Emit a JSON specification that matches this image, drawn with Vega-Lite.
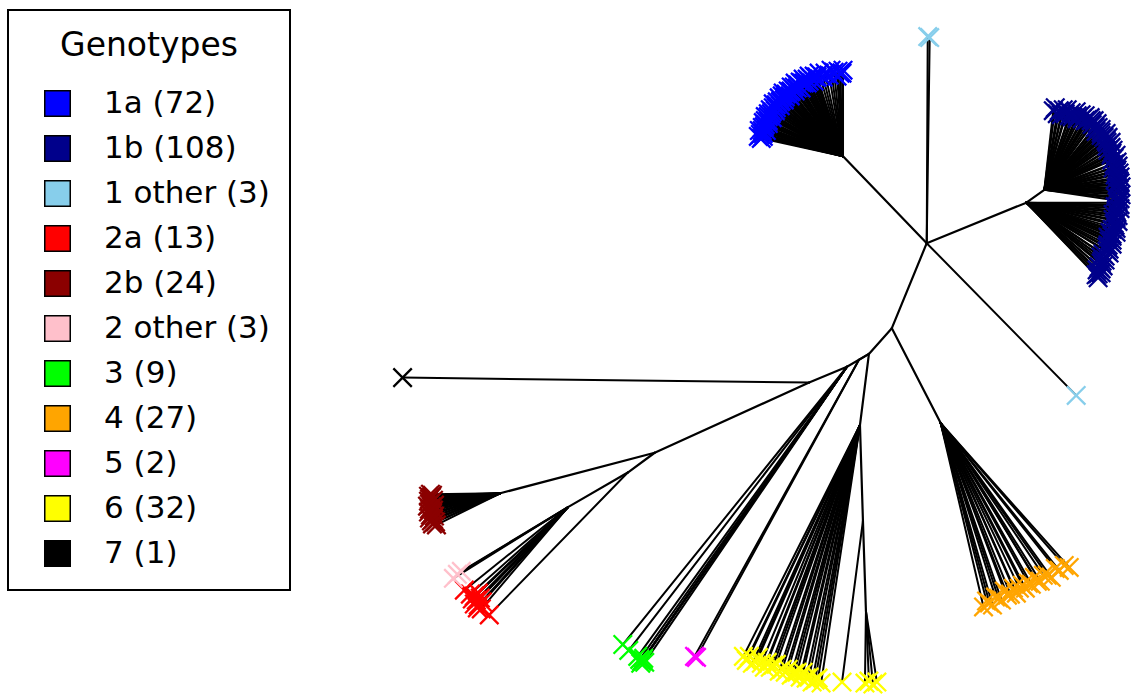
{
  "$schema": "https://vega.github.io/schema/vega-lite/v6.json",
  "width": 1135,
  "height": 698,
  "autosize": {"type": "fit", "contains": "padding"},
  "padding": 0,
  "background": "white",
  "config": {"view": {"stroke": null}},
  "datasets": {
    "groups": [
      {"g":"1a (72)"},{"g":"1b (108)"},{"g":"1 other (3)"},{"g":"2a (13)"},{"g":"2b (24)"},{"g":"2 other (3)"},{"g":"3 (9)"},{"g":"4 (27)"},{"g":"5 (2)"},{"g":"6 (32)"},{"g":"7 (1)"}
    ],
    "edges": [
      {"x":930,"y":246,"x2":846,"y2":158},
      {"x":930,"y":246,"x2":1030,"y2":205},
      {"x":1030,"y":205,"x2":1048,"y2":192},
      {"x":930,"y":246,"x2":895,"y2":332},
      {"x":895,"y":332,"x2":872,"y2":358},
      {"x":895,"y":332,"x2":944,"y2":428},
      {"x":872,"y":358,"x2":850,"y2":371},
      {"x":872,"y":358,"x2":862,"y2":364},
      {"x":872,"y":358,"x2":863,"y2":430},
      {"x":850,"y":371,"x2":812,"y2":387},
      {"x":812,"y":387,"x2":657,"y2":458},
      {"x":657,"y":458,"x2":502,"y2":499},
      {"x":657,"y":458,"x2":630,"y2":478},
      {"x":630,"y":478,"x2":570,"y2":513},
      {"x":863,"y":430,"x2":866,"y2":527},
      {"x":866,"y":527,"x2":869,"y2":618}
    ],
    "tips": [
      {"g":"1a (72)","x":764,"y":140,"px":846,"py":158},
      {"g":"1a (72)","x":761,"y":138,"px":846,"py":158},
      {"g":"1a (72)","x":766,"y":138,"px":846,"py":158},
      {"g":"1a (72)","x":763,"y":136,"px":846,"py":158},
      {"g":"1a (72)","x":766,"y":135,"px":846,"py":158},
      {"g":"1a (72)","x":762,"y":132,"px":846,"py":158},
      {"g":"1a (72)","x":765,"y":132,"px":846,"py":158},
      {"g":"1a (72)","x":769,"y":132,"px":846,"py":158},
      {"g":"1a (72)","x":765,"y":129,"px":846,"py":158},
      {"g":"1a (72)","x":767,"y":128,"px":846,"py":158},
      {"g":"1a (72)","x":768,"y":126,"px":846,"py":158},
      {"g":"1a (72)","x":766,"y":124,"px":846,"py":158},
      {"g":"1a (72)","x":771,"y":125,"px":846,"py":158},
      {"g":"1a (72)","x":768,"y":122,"px":846,"py":158},
      {"g":"1a (72)","x":771,"y":122,"px":846,"py":158},
      {"g":"1a (72)","x":768,"y":118,"px":846,"py":158},
      {"g":"1a (72)","x":771,"y":118,"px":846,"py":158},
      {"g":"1a (72)","x":775,"y":119,"px":846,"py":158},
      {"g":"1a (72)","x":771,"y":115,"px":846,"py":158},
      {"g":"1a (72)","x":774,"y":115,"px":846,"py":158},
      {"g":"1a (72)","x":775,"y":113,"px":846,"py":158},
      {"g":"1a (72)","x":773,"y":111,"px":846,"py":158},
      {"g":"1a (72)","x":778,"y":112,"px":846,"py":158},
      {"g":"1a (72)","x":776,"y":109,"px":846,"py":158},
      {"g":"1a (72)","x":779,"y":109,"px":846,"py":158},
      {"g":"1a (72)","x":776,"y":105,"px":846,"py":158},
      {"g":"1a (72)","x":779,"y":106,"px":846,"py":158},
      {"g":"1a (72)","x":783,"y":107,"px":846,"py":158},
      {"g":"1a (72)","x":780,"y":103,"px":846,"py":158},
      {"g":"1a (72)","x":783,"y":103,"px":846,"py":158},
      {"g":"1a (72)","x":784,"y":102,"px":846,"py":158},
      {"g":"1a (72)","x":782,"y":99,"px":846,"py":158},
      {"g":"1a (72)","x":787,"y":101,"px":846,"py":158},
      {"g":"1a (72)","x":785,"y":97,"px":846,"py":158},
      {"g":"1a (72)","x":788,"y":98,"px":846,"py":158},
      {"g":"1a (72)","x":786,"y":94,"px":846,"py":158},
      {"g":"1a (72)","x":789,"y":95,"px":846,"py":158},
      {"g":"1a (72)","x":793,"y":97,"px":846,"py":158},
      {"g":"1a (72)","x":791,"y":92,"px":846,"py":158},
      {"g":"1a (72)","x":793,"y":93,"px":846,"py":158},
      {"g":"1a (72)","x":794,"y":92,"px":846,"py":158},
      {"g":"1a (72)","x":794,"y":88,"px":846,"py":158},
      {"g":"1a (72)","x":798,"y":92,"px":846,"py":158},
      {"g":"1a (72)","x":797,"y":88,"px":846,"py":158},
      {"g":"1a (72)","x":800,"y":89,"px":846,"py":158},
      {"g":"1a (72)","x":798,"y":84,"px":846,"py":158},
      {"g":"1a (72)","x":801,"y":86,"px":846,"py":158},
      {"g":"1a (72)","x":804,"y":89,"px":846,"py":158},
      {"g":"1a (72)","x":803,"y":83,"px":846,"py":158},
      {"g":"1a (72)","x":805,"y":84,"px":846,"py":158},
      {"g":"1a (72)","x":807,"y":84,"px":846,"py":158},
      {"g":"1a (72)","x":806,"y":80,"px":846,"py":158},
      {"g":"1a (72)","x":810,"y":84,"px":846,"py":158},
      {"g":"1a (72)","x":810,"y":80,"px":846,"py":158},
      {"g":"1a (72)","x":812,"y":82,"px":846,"py":158},
      {"g":"1a (72)","x":812,"y":77,"px":846,"py":158},
      {"g":"1a (72)","x":814,"y":79,"px":846,"py":158},
      {"g":"1a (72)","x":817,"y":82,"px":846,"py":158},
      {"g":"1a (72)","x":817,"y":77,"px":846,"py":158},
      {"g":"1a (72)","x":819,"y":78,"px":846,"py":158},
      {"g":"1a (72)","x":820,"y":78,"px":846,"py":158},
      {"g":"1a (72)","x":822,"y":74,"px":846,"py":158},
      {"g":"1a (72)","x":826,"y":78,"px":846,"py":158},
      {"g":"1a (72)","x":828,"y":74,"px":846,"py":158},
      {"g":"1a (72)","x":832,"y":76,"px":846,"py":158},
      {"g":"1a (72)","x":834,"y":71,"px":846,"py":158},
      {"g":"1a (72)","x":837,"y":73,"px":846,"py":158},
      {"g":"1a (72)","x":840,"y":77,"px":846,"py":158},
      {"g":"1a (72)","x":841,"y":72,"px":846,"py":158},
      {"g":"1a (72)","x":843,"y":74,"px":846,"py":158},
      {"g":"1a (72)","x":845,"y":74,"px":846,"py":158},
      {"g":"1a (72)","x":846,"y":71,"px":846,"py":158},

      {"g":"1b (108)","x":1057,"y":112,"px":1048,"py":192},
      {"g":"1b (108)","x":1059,"y":109,"px":1048,"py":192},
      {"g":"1b (108)","x":1061,"y":115,"px":1048,"py":192},
      {"g":"1b (108)","x":1063,"y":112,"px":1048,"py":192},
      {"g":"1b (108)","x":1065,"y":116,"px":1048,"py":192},
      {"g":"1b (108)","x":1067,"y":111,"px":1048,"py":192},
      {"g":"1b (108)","x":1069,"y":115,"px":1048,"py":192},
      {"g":"1b (108)","x":1071,"y":111,"px":1048,"py":192},
      {"g":"1b (108)","x":1073,"y":117,"px":1048,"py":192},
      {"g":"1b (108)","x":1075,"y":114,"px":1048,"py":192},
      {"g":"1b (108)","x":1076,"y":118,"px":1048,"py":192},
      {"g":"1b (108)","x":1080,"y":113,"px":1048,"py":192},
      {"g":"1b (108)","x":1081,"y":117,"px":1048,"py":192},
      {"g":"1b (108)","x":1081,"y":120,"px":1048,"py":192},
      {"g":"1b (108)","x":1085,"y":116,"px":1048,"py":192},
      {"g":"1b (108)","x":1086,"y":120,"px":1048,"py":192},
      {"g":"1b (108)","x":1089,"y":117,"px":1048,"py":192},
      {"g":"1b (108)","x":1089,"y":122,"px":1048,"py":192},
      {"g":"1b (108)","x":1091,"y":121,"px":1048,"py":192},
      {"g":"1b (108)","x":1094,"y":119,"px":1048,"py":192},
      {"g":"1b (108)","x":1095,"y":122,"px":1048,"py":192},
      {"g":"1b (108)","x":1098,"y":122,"px":1048,"py":192},
      {"g":"1b (108)","x":1096,"y":126,"px":1048,"py":192},
      {"g":"1b (108)","x":1101,"y":125,"px":1048,"py":192},
      {"g":"1b (108)","x":1099,"y":129,"px":1048,"py":192},
      {"g":"1b (108)","x":1102,"y":129,"px":1048,"py":192},
      {"g":"1b (108)","x":1100,"y":133,"px":1048,"py":192},
      {"g":"1b (108)","x":1105,"y":131,"px":1048,"py":192},
      {"g":"1b (108)","x":1105,"y":134,"px":1048,"py":192},
      {"g":"1b (108)","x":1105,"y":137,"px":1048,"py":192},
      {"g":"1b (108)","x":1110,"y":135,"px":1048,"py":192},
      {"g":"1b (108)","x":1108,"y":139,"px":1048,"py":192},
      {"g":"1b (108)","x":1112,"y":139,"px":1048,"py":192},
      {"g":"1b (108)","x":1110,"y":142,"px":1048,"py":192},
      {"g":"1b (108)","x":1111,"y":144,"px":1048,"py":192},
      {"g":"1b (108)","x":1115,"y":144,"px":1048,"py":192},
      {"g":"1b (108)","x":1111,"y":148,"px":1048,"py":192},
      {"g":"1b (108)","x":1115,"y":149,"px":1048,"py":192},
      {"g":"1b (108)","x":1112,"y":152,"px":1048,"py":192},
      {"g":"1b (108)","x":1117,"y":152,"px":1048,"py":192},
      {"g":"1b (108)","x":1116,"y":155,"px":1048,"py":192},
      {"g":"1b (108)","x":1115,"y":157,"px":1048,"py":192},
      {"g":"1b (108)","x":1120,"y":157,"px":1048,"py":192},
      {"g":"1b (108)","x":1118,"y":160,"px":1048,"py":192},
      {"g":"1b (108)","x":1116,"y":162,"px":1048,"py":192},
      {"g":"1b (108)","x":1121,"y":164,"px":1048,"py":192},
      {"g":"1b (108)","x":1118,"y":166,"px":1048,"py":192},
      {"g":"1b (108)","x":1122,"y":168,"px":1048,"py":192},
      {"g":"1b (108)","x":1117,"y":170,"px":1048,"py":192},
      {"g":"1b (108)","x":1121,"y":172,"px":1048,"py":192},
      {"g":"1b (108)","x":1120,"y":173,"px":1048,"py":192},
      {"g":"1b (108)","x":1123,"y":175,"px":1048,"py":192},
      {"g":"1b (108)","x":1119,"y":177,"px":1048,"py":192},
      {"g":"1b (108)","x":1124,"y":179,"px":1048,"py":192},
      {"g":"1b (108)","x":1120,"y":181,"px":1048,"py":192},
      {"g":"1b (108)","x":1123,"y":183,"px":1048,"py":192},
      {"g":"1b (108)","x":1124,"y":185,"px":1048,"py":192},
      {"g":"1b (108)","x":1121,"y":187,"px":1048,"py":192},
      {"g":"1b (108)","x":1125,"y":189,"px":1048,"py":192},
      {"g":"1b (108)","x":1122,"y":191,"px":1048,"py":192},
      {"g":"1b (108)","x":1120,"y":193,"px":1048,"py":192},
      {"g":"1b (108)","x":1123,"y":195,"px":1048,"py":192},
      {"g":"1b (108)","x":1125,"y":197,"px":1048,"py":192},
      {"g":"1b (108)","x":1119,"y":199,"px":1048,"py":192},
      {"g":"1b (108)","x":1124,"y":201,"px":1048,"py":192},
      {"g":"1b (108)","x":1122,"y":203,"px":1048,"py":192},

      {"g":"1b (108)","x":1122,"y":205,"px":1030,"py":205},
      {"g":"1b (108)","x":1124,"y":207,"px":1030,"py":205},
      {"g":"1b (108)","x":1119,"y":209,"px":1030,"py":205},
      {"g":"1b (108)","x":1124,"y":211,"px":1030,"py":205},
      {"g":"1b (108)","x":1120,"y":213,"px":1030,"py":205},
      {"g":"1b (108)","x":1121,"y":215,"px":1030,"py":205},
      {"g":"1b (108)","x":1117,"y":217,"px":1030,"py":205},
      {"g":"1b (108)","x":1122,"y":218,"px":1030,"py":205},
      {"g":"1b (108)","x":1120,"y":220,"px":1030,"py":205},
      {"g":"1b (108)","x":1117,"y":222,"px":1030,"py":205},
      {"g":"1b (108)","x":1122,"y":224,"px":1030,"py":205},
      {"g":"1b (108)","x":1118,"y":226,"px":1030,"py":205},
      {"g":"1b (108)","x":1119,"y":228,"px":1030,"py":205},
      {"g":"1b (108)","x":1120,"y":231,"px":1030,"py":205},
      {"g":"1b (108)","x":1116,"y":232,"px":1030,"py":205},
      {"g":"1b (108)","x":1120,"y":235,"px":1030,"py":205},
      {"g":"1b (108)","x":1114,"y":235,"px":1030,"py":205},
      {"g":"1b (108)","x":1116,"y":237,"px":1030,"py":205},
      {"g":"1b (108)","x":1116,"y":239,"px":1030,"py":205},
      {"g":"1b (108)","x":1112,"y":240,"px":1030,"py":205},
      {"g":"1b (108)","x":1116,"y":243,"px":1030,"py":205},
      {"g":"1b (108)","x":1113,"y":244,"px":1030,"py":205},
      {"g":"1b (108)","x":1116,"y":247,"px":1030,"py":205},
      {"g":"1b (108)","x":1112,"y":248,"px":1030,"py":205},
      {"g":"1b (108)","x":1111,"y":250,"px":1030,"py":205},
      {"g":"1b (108)","x":1113,"y":252,"px":1030,"py":205},
      {"g":"1b (108)","x":1111,"y":254,"px":1030,"py":205},
      {"g":"1b (108)","x":1113,"y":256,"px":1030,"py":205},
      {"g":"1b (108)","x":1107,"y":257,"px":1030,"py":205},
      {"g":"1b (108)","x":1109,"y":259,"px":1030,"py":205},
      {"g":"1b (108)","x":1105,"y":260,"px":1030,"py":205},
      {"g":"1b (108)","x":1109,"y":263,"px":1030,"py":205},
      {"g":"1b (108)","x":1106,"y":264,"px":1030,"py":205},
      {"g":"1b (108)","x":1105,"y":266,"px":1030,"py":205},
      {"g":"1b (108)","x":1107,"y":269,"px":1030,"py":205},
      {"g":"1b (108)","x":1103,"y":270,"px":1030,"py":205},
      {"g":"1b (108)","x":1105,"y":272,"px":1030,"py":205},
      {"g":"1b (108)","x":1101,"y":273,"px":1030,"py":205},
      {"g":"1b (108)","x":1105,"y":276,"px":1030,"py":205},
      {"g":"1b (108)","x":1102,"y":277,"px":1030,"py":205},
      {"g":"1b (108)","x":1100,"y":278,"px":1030,"py":205},
      {"g":"1b (108)","x":1102,"y":281,"px":1030,"py":205},

      {"g":"1 other (3)","x":931,"y":37,"px":930,"py":246},
      {"g":"1 other (3)","x":933,"y":38,"px":930,"py":246},
      {"g":"1 other (3)","x":1080,"y":400,"px":930,"py":246},

      {"g":"2a (13)","x":466,"y":597,"px":570,"py":513},
      {"g":"2a (13)","x":472,"y":601,"px":570,"py":513},
      {"g":"2a (13)","x":476,"y":603,"px":570,"py":513},
      {"g":"2a (13)","x":480,"y":600,"px":570,"py":513},
      {"g":"2a (13)","x":474,"y":606,"px":570,"py":513},
      {"g":"2a (13)","x":478,"y":607,"px":570,"py":513},
      {"g":"2a (13)","x":482,"y":605,"px":570,"py":513},
      {"g":"2a (13)","x":476,"y":611,"px":570,"py":513},
      {"g":"2a (13)","x":480,"y":612,"px":570,"py":513},
      {"g":"2a (13)","x":484,"y":609,"px":570,"py":513},
      {"g":"2a (13)","x":479,"y":615,"px":570,"py":513},
      {"g":"2a (13)","x":483,"y":616,"px":570,"py":513},
      {"g":"2a (13)","x":491,"y":622,"px":630,"py":478},

      {"g":"2b (24)","x":432,"y":500,"px":502,"py":499},
      {"g":"2b (24)","x":434,"y":501,"px":502,"py":499},
      {"g":"2b (24)","x":430,"y":502,"px":502,"py":499},
      {"g":"2b (24)","x":433,"y":503,"px":502,"py":499},
      {"g":"2b (24)","x":431,"y":505,"px":502,"py":499},
      {"g":"2b (24)","x":435,"y":506,"px":502,"py":499},
      {"g":"2b (24)","x":430,"y":507,"px":502,"py":499},
      {"g":"2b (24)","x":433,"y":508,"px":502,"py":499},
      {"g":"2b (24)","x":431,"y":510,"px":502,"py":499},
      {"g":"2b (24)","x":436,"y":511,"px":502,"py":499},
      {"g":"2b (24)","x":429,"y":512,"px":502,"py":499},
      {"g":"2b (24)","x":433,"y":513,"px":502,"py":499},
      {"g":"2b (24)","x":431,"y":515,"px":502,"py":499},
      {"g":"2b (24)","x":435,"y":516,"px":502,"py":499},
      {"g":"2b (24)","x":430,"y":518,"px":502,"py":499},
      {"g":"2b (24)","x":434,"y":519,"px":502,"py":499},
      {"g":"2b (24)","x":432,"y":521,"px":502,"py":499},
      {"g":"2b (24)","x":436,"y":522,"px":502,"py":499},
      {"g":"2b (24)","x":431,"y":524,"px":502,"py":499},
      {"g":"2b (24)","x":435,"y":525,"px":502,"py":499},
      {"g":"2b (24)","x":433,"y":527,"px":502,"py":499},
      {"g":"2b (24)","x":437,"y":528,"px":502,"py":499},
      {"g":"2b (24)","x":434,"y":530,"px":502,"py":499},
      {"g":"2b (24)","x":438,"y":531,"px":502,"py":499},

      {"g":"2 other (3)","x":455,"y":585,"px":570,"py":513},
      {"g":"2 other (3)","x":459,"y":581,"px":570,"py":513},
      {"g":"2 other (3)","x":463,"y":578,"px":570,"py":513},

      {"g":"3 (9)","x":625,"y":652,"px":850,"py":371},
      {"g":"3 (9)","x":631,"y":658,"px":850,"py":371},
      {"g":"3 (9)","x":640,"y":664,"px":850,"py":371},
      {"g":"3 (9)","x":642,"y":667,"px":850,"py":371},
      {"g":"3 (9)","x":644,"y":669,"px":850,"py":371},
      {"g":"3 (9)","x":646,"y":666,"px":850,"py":371},
      {"g":"3 (9)","x":643,"y":671,"px":850,"py":371},
      {"g":"3 (9)","x":647,"y":670,"px":850,"py":371},
      {"g":"3 (9)","x":645,"y":668,"px":850,"py":371},

      {"g":"4 (27)","x":987,"y":614,"px":944,"py":428},
      {"g":"4 (27)","x":990,"y":608,"px":944,"py":428},
      {"g":"4 (27)","x":993,"y":610,"px":944,"py":428},
      {"g":"4 (27)","x":996,"y":612,"px":944,"py":428},
      {"g":"4 (27)","x":999,"y":604,"px":944,"py":428},
      {"g":"4 (27)","x":1002,"y":605,"px":944,"py":428},
      {"g":"4 (27)","x":1005,"y":607,"px":944,"py":428},
      {"g":"4 (27)","x":1008,"y":598,"px":944,"py":428},
      {"g":"4 (27)","x":1011,"y":602,"px":944,"py":428},
      {"g":"4 (27)","x":1014,"y":601,"px":944,"py":428},
      {"g":"4 (27)","x":1017,"y":595,"px":944,"py":428},
      {"g":"4 (27)","x":1020,"y":600,"px":944,"py":428},
      {"g":"4 (27)","x":1023,"y":595,"px":944,"py":428},
      {"g":"4 (27)","x":1026,"y":592,"px":944,"py":428},
      {"g":"4 (27)","x":1029,"y":595,"px":944,"py":428},
      {"g":"4 (27)","x":1032,"y":590,"px":944,"py":428},
      {"g":"4 (27)","x":1035,"y":591,"px":944,"py":428},
      {"g":"4 (27)","x":1038,"y":584,"px":944,"py":428},
      {"g":"4 (27)","x":1041,"y":588,"px":944,"py":428},
      {"g":"4 (27)","x":1044,"y":588,"px":944,"py":428},
      {"g":"4 (27)","x":1047,"y":582,"px":944,"py":428},
      {"g":"4 (27)","x":1051,"y":582,"px":944,"py":428},
      {"g":"4 (27)","x":1055,"y":584,"px":944,"py":428},
      {"g":"4 (27)","x":1059,"y":575,"px":944,"py":428},
      {"g":"4 (27)","x":1063,"y":577,"px":944,"py":428},
      {"g":"4 (27)","x":1068,"y":572,"px":944,"py":428},
      {"g":"4 (27)","x":1073,"y":574,"px":944,"py":428},

      {"g":"5 (2)","x":697,"y":664,"px":862,"py":364},
      {"g":"5 (2)","x":699,"y":665,"px":862,"py":364},

      {"g":"6 (32)","x":746,"y":664,"px":863,"py":430},
      {"g":"6 (32)","x":749,"y":668,"px":863,"py":430},
      {"g":"6 (32)","x":752,"y":664,"px":863,"py":430},
      {"g":"6 (32)","x":755,"y":671,"px":863,"py":430},
      {"g":"6 (32)","x":758,"y":669,"px":863,"py":430},
      {"g":"6 (32)","x":761,"y":665,"px":863,"py":430},
      {"g":"6 (32)","x":764,"y":671,"px":863,"py":430},
      {"g":"6 (32)","x":767,"y":675,"px":863,"py":430},
      {"g":"6 (32)","x":770,"y":670,"px":863,"py":430},
      {"g":"6 (32)","x":773,"y":675,"px":863,"py":430},
      {"g":"6 (32)","x":776,"y":673,"px":863,"py":430},
      {"g":"6 (32)","x":779,"y":672,"px":863,"py":430},
      {"g":"6 (32)","x":782,"y":679,"px":863,"py":430},
      {"g":"6 (32)","x":785,"y":677,"px":863,"py":430},
      {"g":"6 (32)","x":788,"y":680,"px":863,"py":430},
      {"g":"6 (32)","x":791,"y":677,"px":863,"py":430},
      {"g":"6 (32)","x":794,"y":683,"px":863,"py":430},
      {"g":"6 (32)","x":797,"y":681,"px":863,"py":430},
      {"g":"6 (32)","x":800,"y":680,"px":863,"py":430},
      {"g":"6 (32)","x":803,"y":685,"px":863,"py":430},
      {"g":"6 (32)","x":806,"y":680,"px":863,"py":430},
      {"g":"6 (32)","x":809,"y":686,"px":863,"py":430},
      {"g":"6 (32)","x":812,"y":685,"px":863,"py":430},
      {"g":"6 (32)","x":815,"y":690,"px":863,"py":430},
      {"g":"6 (32)","x":818,"y":688,"px":863,"py":430},
      {"g":"6 (32)","x":821,"y":686,"px":863,"py":430},
      {"g":"6 (32)","x":824,"y":691,"px":863,"py":430},
      {"g":"6 (32)","x":845,"y":690,"px":866,"py":527},
      {"g":"6 (32)","x":868,"y":691,"px":869,"py":618},
      {"g":"6 (32)","x":872,"y":689,"px":869,"py":618},
      {"g":"6 (32)","x":876,"y":692,"px":869,"py":618},
      {"g":"6 (32)","x":880,"y":690,"px":869,"py":618},

      {"g":"7 (1)","x":404,"y":382,"px":812,"py":387}
    ]
  },
  "layer": [
    {
      "data": {"name": "edges"},
      "mark": {"type": "rule", "color": "black", "strokeWidth": 2.2, "strokeCap": "round"},
      "encoding": {
        "x": {"field": "x", "type": "quantitative", "axis": null, "scale": {"domain": [0, 1135], "nice": false, "zero": false}},
        "y": {"field": "y", "type": "quantitative", "axis": null, "scale": {"domain": [0, 698], "nice": false, "zero": false, "reverse": true}},
        "x2": {"field": "x2"},
        "y2": {"field": "y2"}
      }
    },
    {
      "data": {"name": "tips"},
      "mark": {"type": "rule", "color": "black", "strokeWidth": 2, "strokeCap": "round"},
      "encoding": {
        "x": {"field": "px", "type": "quantitative"},
        "y": {"field": "py", "type": "quantitative"},
        "x2": {"field": "x"},
        "y2": {"field": "y"}
      }
    },
    {
      "data": {"name": "tips"},
      "mark": {"type": "point", "shape": "M-1,-1L1,1M-1,1L1,-1", "filled": false, "size": 340, "strokeWidth": 2.3, "opacity": 1},
      "encoding": {
        "x": {"field": "x", "type": "quantitative"},
        "y": {"field": "y", "type": "quantitative"},
        "stroke": {
          "field": "g",
          "type": "nominal",
          "legend": null,
          "scale": {
            "domain": ["1a (72)", "1b (108)", "1 other (3)", "2a (13)", "2b (24)", "2 other (3)", "3 (9)", "4 (27)", "5 (2)", "6 (32)", "7 (1)", "unused"],
            "range": ["#0000FF", "#00008B", "#87CEEB", "#FF0000", "#8B0000", "#FFC0CB", "#00FF00", "#FFA500", "#FF00FF", "#FFFF00", "#000000", "#808080"]
          }
        }
      }
    },
    {
      "data": {"name": "groups"},
      "mark": {"type": "point", "shape": "square", "filled": true, "size": 0, "stroke": "black", "strokeWidth": 1.5},
      "encoding": {
        "fill": {
          "field": "g",
          "type": "nominal",
          "scale": {
            "domain": ["1a (72)", "1b (108)", "1 other (3)", "2a (13)", "2b (24)", "2 other (3)", "3 (9)", "4 (27)", "5 (2)", "6 (32)", "7 (1)"],
            "range": ["#0000FF", "#00008B", "#87CEEB", "#FF0000", "#8B0000", "#FFC0CB", "#00FF00", "#FFA500", "#FF00FF", "#FFFF00", "#000000"]
          },
          "legend": {
            "orient": "none",
            "legendX": 8,
            "legendY": 10,
            "padding": 20,
            "symbolOffset": 14,
            "strokeColor": "black",
            "fillColor": "white",
            "title": "Genotypes",
            "titleFont": "DejaVu Sans",
            "titleFontSize": 33,
            "titleFontWeight": "normal",
            "titleColor": "black",
            "titleAnchor": "middle",
            "titlePadding": 25,
            "labelFont": "DejaVu Sans",
            "labelFontSize": 31,
            "labelColor": "black",
            "labelOffset": 31,
            "labelLimit": 400,
            "rowPadding": 12,
            "symbolType": "square",
            "symbolSize": 650,
            "symbolOpacity": 1,
            "symbolStrokeColor": "black",
            "symbolStrokeWidth": 1.5,
            "encoding": {
              "symbols": {
                "stroke": {"value": "black"},
                "strokeWidth": {"value": 1.5},
                "fillOpacity": {"value": 1},
                "opacity": {"value": 1}
              },
              "legend": {
                "strokeWidth": {"value": 2}
              }
            }
          }
        }
      }
    }
  ]
}
